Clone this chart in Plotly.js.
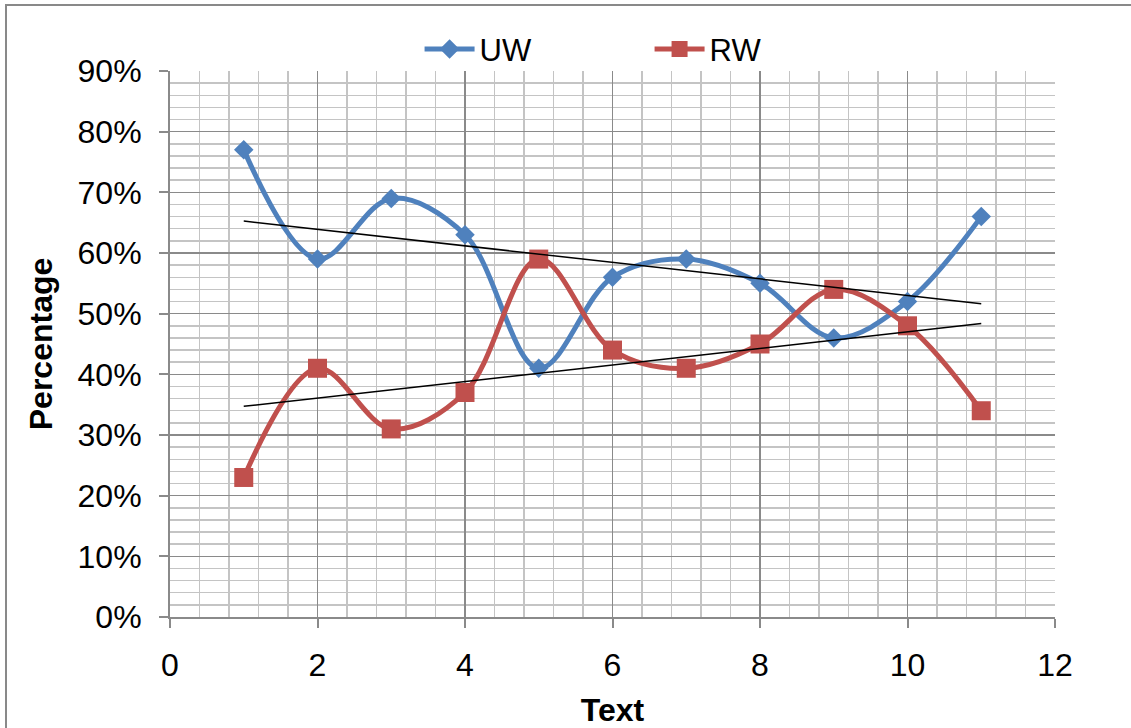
<!DOCTYPE html>
<html>
<head>
<meta charset="utf-8">
<script src="https://cdn.plot.ly/plotly-3.0.1.min.js"></script>
<style>
  html, body { margin: 0; padding: 0; background: #ffffff; overflow: hidden; }
  #frame { position: absolute; left: 5px; top: 4px; width: 1140px; height: 740px;
           border: 2px solid #898989; box-sizing: border-box; }
  #chart { position: absolute; left: 0; top: 0; width: 1131px; height: 728px; }
</style>
</head>
<body>
<div id="frame"></div>
<div id="chart"></div>
<script>
// Text number on the x axis, share of each word type (%)
const texts = [1, 2, 3, 4, 5, 6, 7, 8, 9, 10, 11];
const uw = [77, 59, 69, 63, 41, 56, 59, 55, 46, 52, 66];
const rw = [23, 41, 31, 37, 59, 44, 41, 45, 54, 48, 34];
const yTickVals = [0, 10, 20, 30, 40, 50, 60, 70, 80, 90];
const yTickText = ['0%', '10%', '20%', '30%', '40%', '50%', '60%', '70%', '80%', '90%'];
const xTickVals = [0, 2, 4, 6, 8, 10, 12];

// least-squares linear trend evaluated at every x
function linearTrend(xs, ys) {
  const n = xs.length;
  const mx = xs.reduce((a, b) => a + b, 0) / n;
  const my = ys.reduce((a, b) => a + b, 0) / n;
  let sxy = 0, sxx = 0;
  for (let i = 0; i < n; i++) {
    sxy += (xs[i] - mx) * (ys[i] - my);
    sxx += (xs[i] - mx) * (xs[i] - mx);
  }
  const slope = sxy / sxx;
  return xs.map(x => my + slope * (x - mx));
}

const FONT = 'Liberation Sans, Arial, sans-serif';

const traces = [
  {
    x: texts, y: uw, name: 'UW', type: 'scatter', mode: 'lines+markers',
    line: { color: '#4F81BD', width: 5, shape: 'spline', smoothing: 1 },
    marker: { symbol: 'diamond', size: 15, color: '#4F81BD' }
  },
  {
    x: texts, y: rw, name: 'RW', type: 'scatter', mode: 'lines+markers',
    line: { color: '#C0504D', width: 5, shape: 'spline', smoothing: 1 },
    marker: { symbol: 'square', size: 19, color: '#C0504D' }
  },
  {
    x: texts, y: linearTrend(texts, uw), type: 'scatter', mode: 'lines',
    line: { color: '#000000', width: 1.5 }, showlegend: false, hoverinfo: 'skip'
  },
  {
    x: texts, y: linearTrend(texts, rw), type: 'scatter', mode: 'lines',
    line: { color: '#000000', width: 1.5 }, showlegend: false, hoverinfo: 'skip'
  }
];

const layout = {
  width: 1131, height: 728,
  margin: { l: 170, r: 76, t: 71, b: 111 },
  paper_bgcolor: 'rgba(0,0,0,0)',
  plot_bgcolor: '#ffffff',
  font: { family: FONT, size: 32, color: '#000000' },
  showlegend: true,
  legend: {
    orientation: 'h', x: 0.282, xanchor: 'left', y: 0.99, yanchor: 'bottom',
    font: { family: FONT, size: 31, color: '#000000' },
    entrywidth: 165, entrywidthmode: 'pixels',
    bgcolor: 'rgba(0,0,0,0)', itemwidth: 50
  },
  xaxis: {
    range: [0, 12], tickvals: xTickVals, ticktext: xTickVals.map(String),
    showgrid: true, gridcolor: '#8a8a8a', gridwidth: 1.5,
    minor: { dtick: 0.4, showgrid: true, gridcolor: '#c4c4c4', gridwidth: 1.5 },
    showline: true, linecolor: '#8a8a8a', linewidth: 2,
    ticks: 'outside', ticklen: 9, tickcolor: '#8a8a8a', tickwidth: 2,
    ticklabelstandoff: 10,
    zeroline: false, mirror: false,
    tickfont: { family: FONT, size: 32 },
    title: { text: 'Text', font: { family: FONT, size: 32, weight: 'bold' }, standoff: 20 },
    fixedrange: true
  },
  yaxis: {
    range: [0, 90], tickvals: yTickVals, ticktext: yTickText,
    showgrid: true, gridcolor: '#8a8a8a', gridwidth: 1.5,
    minor: { dtick: 2, showgrid: true, gridcolor: '#c4c4c4', gridwidth: 1.5 },
    showline: true, linecolor: '#8a8a8a', linewidth: 2,
    ticks: 'outside', ticklen: 9, tickcolor: '#8a8a8a', tickwidth: 2,
    ticklabelstandoff: 11,
    zeroline: false,
    tickfont: { family: FONT, size: 32 },
    title: { text: 'Percentage', font: { family: FONT, size: 32, weight: 'bold' }, standoff: 15 },
    fixedrange: true
  }
};

Plotly.newPlot('chart', traces, layout, { displayModeBar: false, staticPlot: true });
</script>
</body>
</html>
